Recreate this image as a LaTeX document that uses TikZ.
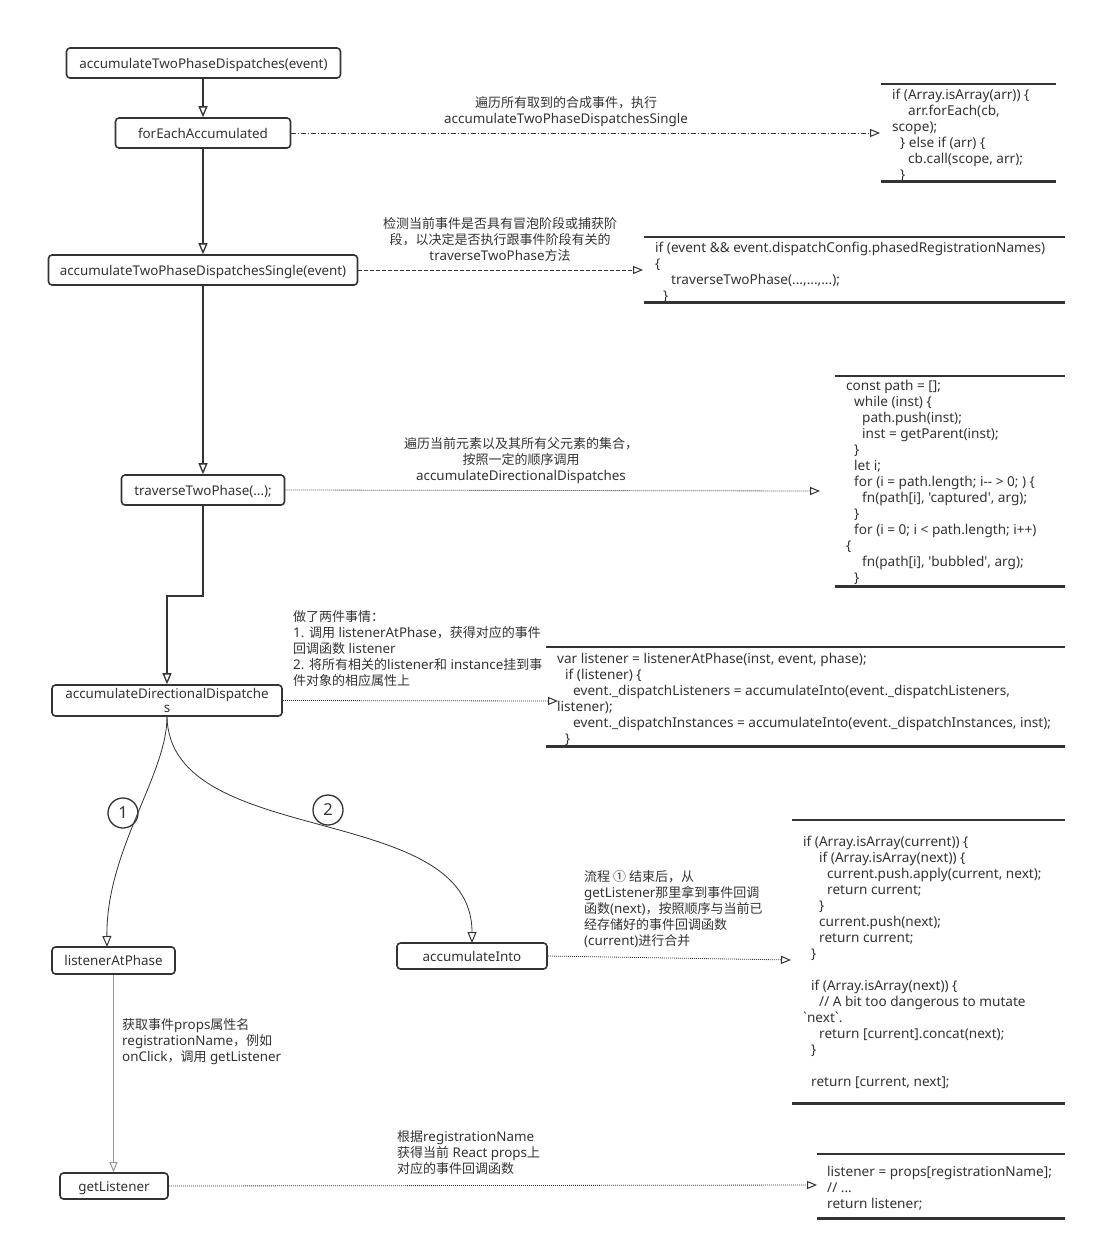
\documentclass[tikz,border=0pt]{standalone}
\usepackage{fontspec}
\newfontfamily\lat{Noto Sans}[Scale=1.03]
\newfontfamily\zhfont{Noto Sans CJK SC}
\newcommand\zh[1]{{\zhfont #1}}
\newcommand\fs{\fontsize{13}{16}\selectfont\lat}
\newcommand\cs{\fontsize{13.2}{16}\selectfont\lat}
\newcommand\ind[1]{\hspace*{#1pt}}
\usetikzlibrary{arrows.meta}
\definecolor{dark}{HTML}{333333}
\definecolor{txt}{HTML}{333333}
\definecolor{lgray}{HTML}{999999}
\tikzset{
  box/.style={draw=dark, line width=1.6pt, rounded corners=3.5pt, minimum height=30pt, inner sep=0pt, font=\fs, text=txt, align=center, text height=12pt, text depth=2pt},
  box2/.style={draw=dark, line width=1.6pt, rounded corners=3.5pt, minimum height=30pt, inner sep=0pt, font=\fs, text=txt, align=center},
  lbl/.style={inner sep=0pt, font=\fs, text=txt},
  code/.style={inner sep=0pt, font=\cs, text=txt, align=left, anchor=north west},
  flow/.style={draw=dark, line width=1.6pt, -{Triangle[open, length=11pt, width=9pt, line width=1.3pt]}},
  thinflow/.style={draw=dark, line width=0.8pt, -{Triangle[open, length=11pt, width=9pt, line width=1pt]}},
  grayflow/.style={draw=lgray, line width=1pt, -{Triangle[open, length=10pt, width=8pt, line width=1pt]}},
  ddot/.style={draw=dark, line width=0.8pt, dash pattern=on 5pt off 2pt on 1pt off 2pt, -{Triangle[open, length=10pt, width=8pt, line width=1pt, sep=0pt]}},
  ddash/.style={draw=dark, line width=0.8pt, dash pattern=on 4pt off 2pt, -{Triangle[open, length=10pt, width=8pt, line width=1pt]}},
  dotl/.style={draw=dark, line width=0.8pt, dash pattern=on 1pt off 1pt, -{Triangle[open, length=10pt, width=8pt, line width=1pt]}},
  toprule/.style={draw=dark, line width=2pt},
  botrule/.style={draw=dark, line width=3pt},
  circ/.style={circle, draw=dark, line width=1.3pt, minimum size=30pt, inner sep=0pt, font=\fontsize{16}{18}\selectfont\lat, text=txt}
}
\begin{document}
\begin{tikzpicture}[x=1pt, y=-1pt]
\useasboundingbox (0,0) rectangle (1096,1250);
\fill[white] (0,0) rectangle (1096,1250);

% main boxes
\node[box, minimum width=274pt] (n1) at (203.5,63) {accumulateTwoPhaseDispatches(event)};
\node[box, minimum width=175pt] (n2) at (203,133) {forEachAccumulated};
\node[box, minimum width=309pt] (n3) at (203,270) {accumulateTwoPhaseDispatchesSingle(event)};
\node[box, minimum width=163pt] (n4) at (203,490) {traverseTwoPhase(...);};
\node[box2, minimum width=230pt, minimum height=31pt] (n5) at (167,700.5) {accumulateDirectionalDispatche\\[-2pt]s};
\node[box, minimum width=123pt, minimum height=27pt] (n6) at (113.5,960.5) {listenerAtPhase};
\node[box, minimum width=150pt, minimum height=26pt] (n7) at (472,956) {accumulateInto};
\node[box, minimum width=108pt, minimum height=26pt] (n8) at (114,1186) {getListener};

% flow
\draw[flow] (n2.north |- n1.south) -- (n2.north);
\draw[flow] (n2) -- (n3);
\draw[flow] (n3) -- (n4);
\draw[flow] (n4.south) -- ++(0,90) -| (n5.north);
\draw[thinflow] (n5.south) .. controls (167,775) and (106,850) .. (107,947);
\draw[thinflow] (n5.south) .. controls (170,850) and (472,800) .. (472,943);
\draw[grayflow] (n6.south) -- (n6.south |- n8.north);

\node[circ] (c1) at (123,813) {1};
\node[circ] (c2) at (328,810) {2};

% code boxes
\draw[toprule] (881,84) -- (1056,84);
\draw[botrule] (881,181) -- (1056,181);
\node[code] (code1) at (892,89) {if (Array.isArray(arr)) \{\\
\ind{16}arr.forEach(cb,\\
scope);\\
\ind{8}\} else if (arr) \{\\
\ind{16}cb.call(scope, arr);\\
\ind{8}\}};

\draw[toprule] (644,237) -- (1065,237);
\draw[botrule] (644,302) -- (1065,302);
\node[code] (code2) at (655,242) {if (event \&\& event.dispatchConfig.phasedRegistrationNames)\\
\{\\
\ind{16}traverseTwoPhase(...,...,...);\\
\ind{8}\}};

\draw[toprule] (835,376) -- (1065,376);
\draw[botrule] (835,586) -- (1065,586);
\node[code] (code3) at (846,380) {const path = [];\\
\ind{8}while (inst) \{\\
\ind{16}path.push(inst);\\
\ind{16}inst = getParent(inst);\\
\ind{8}\}\\
\ind{8}let i;\\
\ind{8}for (i = path.length; i-- > 0; ) \{\\
\ind{16}fn(path[i], 'captured', arg);\\
\ind{8}\}\\
\ind{8}for (i = 0; i < path.length; i++)\\
\{\\
\ind{16}fn(path[i], 'bubbled', arg);\\
\ind{8}\}};

\draw[toprule] (546,647) -- (1065,647);
\draw[botrule] (546,746) -- (1065,746);
\node[code] (code4) at (557,653) {var listener = listenerAtPhase(inst, event, phase);\\
\ind{8}if (listener) \{\\
\ind{16}event.\_dispatchListeners = accumulateInto(event.\_dispatchListeners,\\
listener);\\
\ind{16}event.\_dispatchInstances = accumulateInto(event.\_dispatchInstances, inst);\\
\ind{8}\}};

\draw[toprule] (792,820) -- (1065,820);
\draw[botrule] (792,1103) -- (1065,1103);
\node[code] (code5) at (803,836) {if (Array.isArray(current)) \{\\
\ind{16}if (Array.isArray(next)) \{\\
\ind{24}current.push.apply(current, next);\\
\ind{24}return current;\\
\ind{16}\}\\
\ind{16}current.push(next);\\
\ind{16}return current;\\
\ind{8}\}\\
\mbox{}\\
\ind{8}if (Array.isArray(next)) \{\\
\ind{16}// A bit too dangerous to mutate\\
`next`.\\
\ind{16}return [current].concat(next);\\
\ind{8}\}\\
\mbox{}\\
\ind{8}return [current, next];};

\draw[toprule] (817,1154) -- (1065,1154);
\draw[botrule] (817,1218) -- (1065,1218);
\node[code] (code6) at (827,1166) {listener = props[registrationName];\\
// ...\\
return listener;};

% tips
\coordinate (t1) at (880,133);
\coordinate (t2) at (643,270);
\coordinate (t3) at (820,491);
\coordinate (t4) at (558,701);
\coordinate (t5) at (791,960);
\coordinate (t6) at (817,1185);

\draw[ddot] (n2.east) -- (t1);
\draw[ddash] (n3.east) -- (t2);
\draw[dotl] (n4.east) -- (t3);
\draw[dotl] (n5.east) -- (t4);
\draw[dotl] (n7.east) -- (t5);
\draw[dotl] (n8.east) -- (t6);

% labels
\node[lbl, align=center, anchor=north] (l1) at (566,96) {\zh{遍历所有取到的合成事件，执行}\\accumulateTwoPhaseDispatchesSingle};
\node[lbl, align=center, anchor=north] (l2) at (500,217) {\zh{检测当前事件是否具有冒泡阶段或捕获阶}\\\zh{段，以决定是否执行跟事件阶段有关的}\\traverseTwoPhase\zh{方法}};
\node[lbl, align=center, anchor=north] (l3) at (521,437.5) {\zh{遍历当前元素以及其所有父元素的集合，}\\\zh{按照一定的顺序调用}\\accumulateDirectionalDispatches};
\node[lbl, align=left, anchor=north west] (l4) at (293,610.5) {\zh{做了两件事情：}\\1. \zh{调用} listenerAtPhase\zh{，获得对应的事件}\\\zh{回调函数} listener\\2. \zh{将所有相关的}listener\zh{和} instance\zh{挂到事}\\\zh{件对象的相应属性上}};
\node[lbl, align=left, anchor=north west] (l5) at (584,870.5) {\zh{流程 ① 结束后，从}\\getListener\zh{那里拿到事件回调}\\\zh{函数}(next)\zh{，按照顺序与当前已}\\\zh{经存储好的事件回调函数}\\(current)\zh{进行合并}};
\node[lbl, align=left, anchor=north west] (l6) at (122,1018) {\zh{获取事件}props\zh{属性名}\\registrationName\zh{，例如}\\onClick\zh{，调用} getListener};
\node[lbl, align=left, anchor=north west] (l7) at (397,1130) {\zh{根据}registrationName\\\zh{获得当前} React props\zh{上}\\\zh{对应的事件回调函数}};
\end{tikzpicture}
\end{document}
